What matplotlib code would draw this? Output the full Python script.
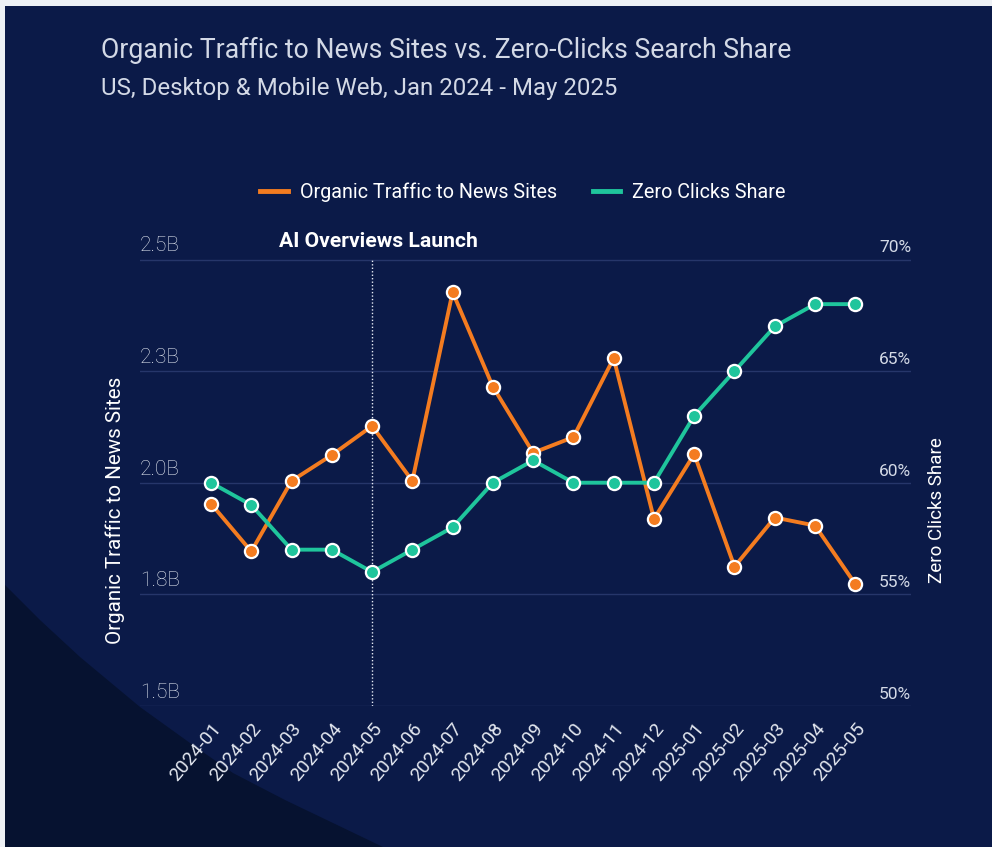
import matplotlib.pyplot as plt
from matplotlib.patches import Polygon, Rectangle
from matplotlib.transforms import blended_transform_factory, offset_copy

plt.rcParams['font.family'] = ['Roboto', 'DejaVu Sans']

months = ["2024-01", "2024-02", "2024-03", "2024-04", "2024-05", "2024-06",
          "2024-07", "2024-08", "2024-09", "2024-10", "2024-11", "2024-12",
          "2025-01", "2025-02", "2025-03", "2025-04", "2025-05"]
# organic traffic, billions of visits
organic = [1.953, 1.846, 2.004, 2.062, 2.127, 2.004, 2.427, 2.215, 2.067,
           2.102, 2.279, 1.919, 2.064, 1.812, 1.922, 1.904, 1.773]
# zero-click share, percent
zero_clicks = [60, 59, 57, 57, 56, 57, 58, 60, 61, 60, 60, 60, 63, 65, 67, 68, 68]

left_ticks = [1.5, 1.75, 2.0, 2.25, 2.5]
left_labels = ["1.5B", "1.8B", "2.0B", "2.3B", "2.5B"]
right_ticks = [50, 55, 60, 65, 70]
launch_month = "2024-05"

BG = "#0b1a48"
DARK = "#061230"
ORANGE = "#f47c20"
GREEN = "#1fc59c"
GRID = "#26366a"
TXT = "#d3d9e6"

fig = plt.figure(figsize=(9.92, 8.47), dpi=100)
fig.patch.set_facecolor("#eef1f5")
W, H = 992, 847
fig.patches.append(Rectangle((5 / W, 0), 1, 1 - 6 / H, transform=fig.transFigure,
                             facecolor=BG, edgecolor="none", zorder=-10))
curve = [(5, 585), (40, 620), (80, 657), (140, 707), (190, 743), (233, 773),
         (285, 800), (333, 823), (383, 847), (5, 847)]
fig.patches.append(Polygon([(x / W, 1 - y / H) for x, y in curve], closed=True,
                           transform=fig.transFigure, facecolor=DARK,
                           edgecolor="none", zorder=-9))

ax = fig.add_axes([140 / W, 1 - 705.9 / H, 771 / W, 446.4 / H])
ax.set_facecolor("none")
ax2 = ax.twinx()

x = list(range(len(months)))
ax.set_xlim(-(211 - 140) / 40.27, 16 + (911 - 855.3) / 40.27)
ax.set_ylim(1.5, 2.5)
ax2.set_ylim(50, 70)

for a in (ax, ax2):
    for s in a.spines.values():
        s.set_visible(False)
    a.tick_params(length=0)
ax.set_yticks(left_ticks)
ax.set_yticklabels([])
ax2.set_yticks(right_ticks)
ax2.set_yticklabels([])
ax.grid(axis="y", color=GRID, linewidth=1)
ax.set_axisbelow(True)

ax.set_xticks(x)
ax.set_xticklabels(months, rotation=50, ha="right", rotation_mode="anchor",
                   color="#e4e8f0", fontsize=13.7)
ax.tick_params(axis="x", pad=10)

tl = blended_transform_factory(ax.transAxes, ax.transData)
for v, lab in zip(left_ticks, left_labels):
    ax.text(0, v, lab, transform=offset_copy(tl, fig=fig, x=0, y=3, units="points"),
            ha="left", va="bottom", color="#e2e7f0", fontsize=15, fontweight="light")
tr = blended_transform_factory(ax2.transAxes, ax2.transData)
for v in right_ticks:
    ax2.text(1, v, f"{v}%", transform=offset_copy(tr, fig=fig, x=0, y=3, units="points"),
             ha="right", va="bottom", color=TXT, fontsize=12.5)

li = months.index(launch_month)
ax.axvline(li, color="#e6ebf5", linestyle=(0, (1, 1.5)), linewidth=1)
ax.text(li + 0.17, 2.5, "AI Overviews Launch",
        transform=offset_copy(ax.transData, fig=fig, x=0, y=6, units="points"),
        ha="center", va="bottom", color="white", fontsize=15.2, fontweight="bold")

ax.plot(x, organic, color=ORANGE, linewidth=2.8, marker="o", markersize=9.5,
        markerfacecolor=ORANGE, markeredgecolor="white", markeredgewidth=1.6)
ax2.plot(x, zero_clicks, color=GREEN, linewidth=2.8, marker="o", markersize=9.5,
         markerfacecolor=GREEN, markeredgecolor="white", markeredgewidth=1.6)

ax.set_ylabel("Organic Traffic to News Sites", color="white", fontsize=14.8)
ax.yaxis.set_label_coords(-0.0195, 0.439)
ax2.set_ylabel("Zero Clicks Share", color="white", fontsize=13.5)
ax2.yaxis.set_label_coords(1.022, 0.439)

h1 = plt.Line2D([], [], color=ORANGE, linewidth=3.5)
h2 = plt.Line2D([], [], color=GREEN, linewidth=3.5)
fig.legend([h1, h2], ["Organic Traffic to News Sites", "Zero Clicks Share"],
           loc="center", bbox_to_anchor=(523 / W, 1 - 192 / H), ncol=2,
           frameon=False, fontsize=14.2, handlelength=1.4, handletextpad=0.6,
           columnspacing=1.8, labelcolor="white")

fig.text(101 / W, 1 - 50 / H, "Organic Traffic to News Sites vs. Zero-Clicks Search Share",
         ha="left", va="center", color=TXT, fontsize=19.2)
fig.text(101 / W, 1 - 88 / H, "US, Desktop & Mobile Web, Jan 2024 - May 2025",
         ha="left", va="center", color=TXT, fontsize=17.3)

fig.savefig("out.png", dpi=100, facecolor=fig.get_facecolor())
